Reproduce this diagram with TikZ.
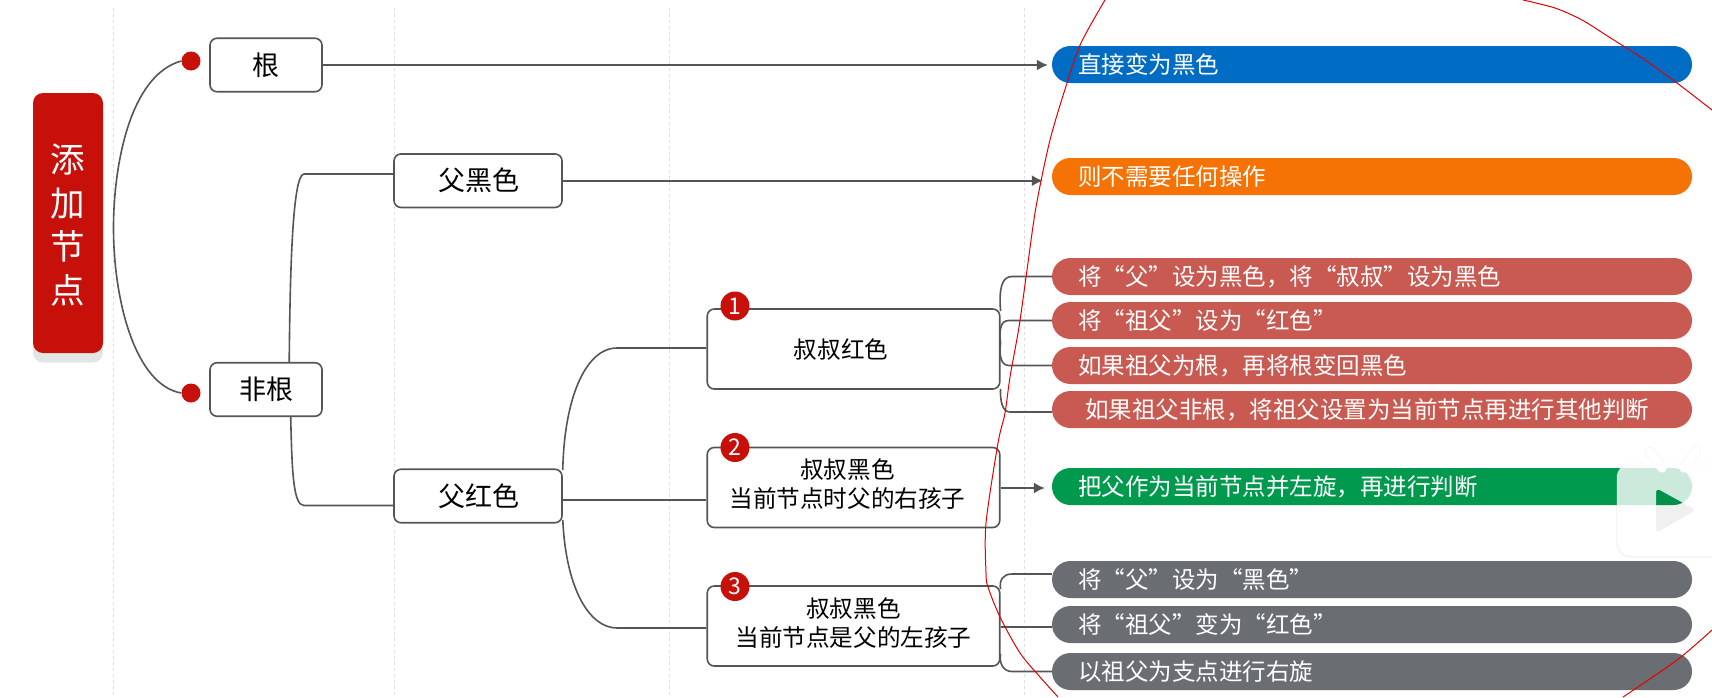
\documentclass[tikz,border=0pt]{standalone}
\usepackage{fontspec}
\setmainfont{Noto Sans CJK SC}
\usetikzlibrary{arrows.meta}
\definecolor{lineC}{HTML}{555555}
\definecolor{mainR}{HTML}{C8100A}
\definecolor{shadowC}{HTML}{E2E7E4}
\definecolor{pBlue}{HTML}{006CC4}
\definecolor{pOrange}{HTML}{F57205}
\definecolor{pRed}{HTML}{C85A52}
\definecolor{pGreen}{HTML}{009A4E}
\definecolor{pGray}{HTML}{6A6E73}
\definecolor{guideC}{HTML}{DDDDDD}
\tikzset{
  boxnode/.style={draw=lineC,line width=1.6pt,fill=white,rounded corners=7pt,inner sep=0pt,align=center,text=black},
  smallbox/.style={boxnode,minimum width=112pt,minimum height=53.5pt,font=\fontsize{27}{30}\selectfont},
  midbox/.style={boxnode,minimum width=168pt,minimum height=53.5pt,font=\fontsize{27}{30}\selectfont},
  widebox/.style={boxnode,minimum width=292.5pt,minimum height=80pt,font=\fontsize{23.6}{29}\selectfont},
  pillbox/.style={fill=#1,rounded corners=18.4pt,minimum width=640pt,minimum height=37pt,inner ysep=0pt,inner xsep=26pt,text width=588pt,align=left,text=white,text height=21pt,text depth=3pt,font=\fontsize{23.5}{28}\selectfont},
  dotnode/.style={circle,fill=mainR,minimum size=19pt,inner sep=0pt},
  badge/.style={circle,fill=mainR,minimum size=29pt,inner sep=0pt,text=white,font=\fontsize{23}{24}\selectfont},
  conn/.style={draw=lineC,line width=1.6pt},
  arrowconn/.style={conn,-{Latex[length=11pt,width=11pt]}},
  guide/.style={draw=guideC,line width=.6pt,dashed},
  ink/.style={draw=red!90!black,line width=1pt}
}
\begin{document}
\begin{tikzpicture}[x=1pt,y=-1pt]
\useasboundingbox (0,0) rectangle (1712,697);
\fill[white] (0,0) rectangle (1712,697);
% guides
\foreach \gx in {113.5,394,669,1024}{\draw[guide] (\gx,8) -- (\gx,697);}
% main
\fill[rounded corners=10pt,shadowC] (33,110) rectangle (103,362.5);
\node[fill=mainR,rounded corners=10pt,minimum width=70pt,minimum height=260pt,inner sep=0pt,text=white,align=center,font=\fontsize{34.5}{43.5}\selectfont] (mainbox) at (68,223) {\raisebox{0pt}[\dimexpr\height+13pt\relax][\depth]{\begin{tabular}{@{}c@{}}添\\[0pt]加\\[0pt]节\\[0pt]点\end{tabular}}};
% level one
\node[dotnode] (dotA) at (191,61) {};
\node[dotnode] (dotB) at (191,393) {};
\node[smallbox] (root) at (266,65) {根};
\node[smallbox] (nonroot) at (266,389.5) {非根};
\node[midbox] (pb) at (478,180.7) {\hspace*{2pt}父黑色};
\node[midbox] (pr) at (478,496) {\hspace*{2pt}父红色};
% level three
\node[widebox] (uA) at (853.5,349) {\hspace*{-25pt}叔叔红色};
\node[widebox] (uB) at (853.5,487.5) {\hspace*{-12pt}\begin{tabular}{@{}c@{}}叔叔黑色\\当前节点时父的右孩子\end{tabular}};
\node[widebox] (uC) at (853.5,626) {\begin{tabular}{@{}c@{}}叔叔黑色\\当前节点是父的左孩子\end{tabular}};
\node[badge] (nA) at (735,306) {1};
\node[badge] (nB) at (735,447.5) {2};
\node[badge] (nC) at (735,586.5) {3};
% pills
\node[pillbox=pBlue] (pill1) at (1372,64.5) {直接变为黑色};
\node[pillbox=pOrange] (pill2) at (1372,176.5) {则不需要任何操作};
\node[pillbox=pRed] (r1) at (1372,276.5) {将“父”设为黑色，将“叔叔”设为黑色};
\node[pillbox=pRed] (r2) at (1372,320.5) {将“祖父”设为“红色”};
\node[pillbox=pRed] (r3) at (1372,365.5) {如果祖父为根，再将根变回黑色};
\node[pillbox=pRed] (r4) at (1372,409.5) {\hspace*{7pt}如果祖父非根，将祖父设置为当前节点再进行其他判断};
\node[pillbox=pGreen] (gn) at (1372,486.5) {把父作为当前节点并左旋，再进行判断};
\node[pillbox=pGray] (g1) at (1372,579.5) {将“父”设为“黑色”};
\node[pillbox=pGray] (g2) at (1372,624.5) {将“祖父”变为“红色”};
\node[pillbox=pGray] (g3) at (1372,671.5) {以祖父为支点进行右旋};
% connectors
\draw[conn] (dotA.west) .. controls (130,75) and (113.5,165) .. (113.5,228) .. controls (113.5,300) and (135,385) .. (dotB.west);
\draw[conn] ([xshift=80pt]nonroot.north west) .. controls (290,280) and (292,174) .. (304,174) -- ([yshift=6.7pt]pb.west);
\draw[conn] ([xshift=81.5pt]nonroot.south west) .. controls (292,470) and (293,505.5) .. (304,505.5) -- ([yshift=-9.5pt]pr.west);
\draw[conn] ([yshift=26pt]pr.east) .. controls (564,400) and (585,348) .. (617,348) -- ([yshift=1pt]uA.west);
\draw[conn] ([yshift=-4pt]pr.east) -- ([yshift=-12.5pt]uB.west);
\draw[conn] ([yshift=-24pt]pr.east) .. controls (566,590) and (590,628) .. (617,628) -- ([yshift=-2pt]uC.west);
\draw[arrowconn,shorten >=4pt] (root.east) -- (root.east -| pill1.west);
\draw[arrowconn,shorten >=9pt] (pb.east) -- (pb.east -| pill2.west);
\draw[arrowconn,shorten >=7pt] ([yshift=-.5pt]uB.east) -- ([yshift=-.5pt]uB.east -| gn.west);
\draw[conn] ([yshift=-3pt]uA.north east) .. controls (999,290) and (1001,276.5) .. (1012,276.5) -- (r1.west);
\draw[conn] ([yshift=6pt]uA.east) .. controls (999,328) and (1001,320.5) .. (1009,320.5) -- (r2.west);
\draw[conn] ([yshift=6pt]uA.east) .. controls (999,356) and (1001,365.5) .. (1009,365.5) -- (r3.west);
\draw[conn] ([yshift=1pt]uA.south east) .. controls (1000,400) and (1002,412) .. (1010,412) -- ([yshift=-2.5pt]r4.west);
\draw[conn] ([yshift=-4pt]uC.north east) .. controls (999,580) and (1003,574) .. (1012,574) -- ([yshift=5.5pt]g1.west);
\draw[conn] ([yshift=-1pt]uC.east) -- ([yshift=-2.5pt]g2.west);
\draw[conn] ([yshift=13pt]uC.south east) .. controls (999,663) and (1003,671.5) .. (1012,671.5) -- (g3.west);
% player logo overlay
\draw[black!20,opacity=.3,line width=10pt,line cap=round] (1650,452) -- (1662,468);
\draw[black!20,opacity=.3,line width=10pt,line cap=round] (1696,452) -- (1684,468);
\draw[white,line width=9pt,line cap=round] (1650,452) -- (1662,468);
\draw[white,line width=9pt,line cap=round] (1696,452) -- (1684,468);
\draw[black!20,opacity=.25,line width=1.5pt,rounded corners=14pt] (1730,464) -- (1617,464) -- (1617,557) -- (1730,557);
\fill[white,opacity=.8,even odd rule,rounded corners=14pt] (1617,463) -- (1730,463) -- (1730,556) -- (1617,556) -- cycle
  [rounded corners=4pt] (1656,488) -- (1696,510) -- (1656,533) -- cycle;
\fill[black,opacity=.06,rounded corners=4pt] (1656,488) -- (1696,510) -- (1656,533) -- cycle;
% freehand ink
\begin{scope}
\clip (0,0) rectangle (1712,697);
\draw[ink] plot[smooth,tension=.5] coordinates {(1105,0) (1081,43) (1067,83) (1050,140) (1036,207) (1027,270) (1019,327) (1010,377) (1005,413) (998,443) (986,523) (986,573) (988,587) (1000,617) (1020,653) (1040,677) (1058,697)};
\draw[ink] plot[smooth,tension=.5] coordinates {(1523,0) (1555,8) (1582,20) (1609,37) (1645,60) (1677,83) (1712,110)};
\draw[ink] plot[smooth,tension=.5] coordinates {(1712,630) (1677,660) (1623,697)};
\end{scope}
\end{tikzpicture}
\end{document}
